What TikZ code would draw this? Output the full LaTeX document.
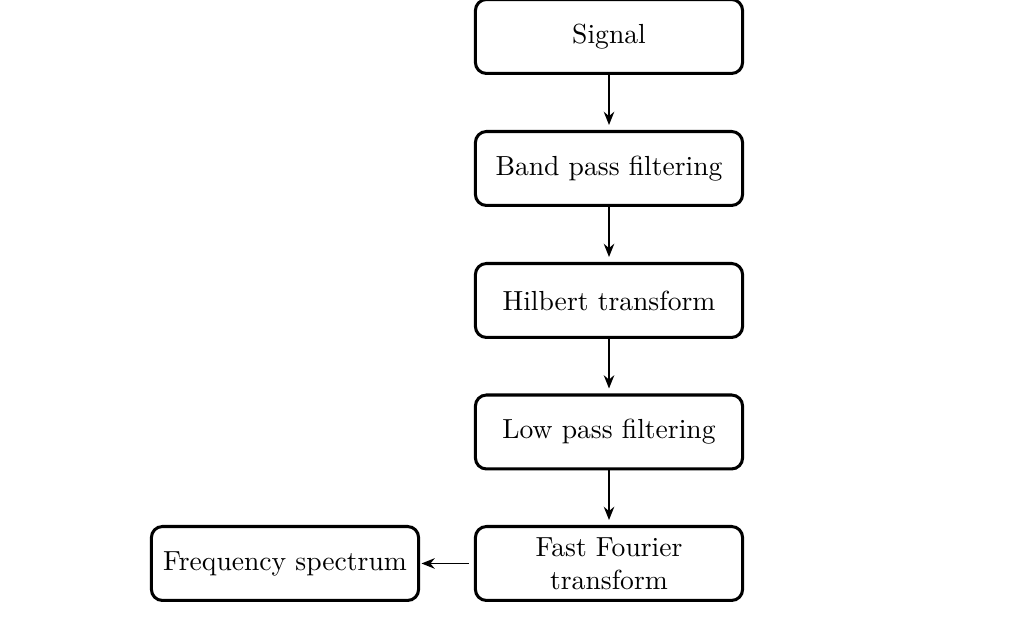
\documentclass[tikz,border=0pt]{standalone}
\usetikzlibrary{arrows.meta}
\begin{document}
\begin{tikzpicture}[x=0.3623pt,y=-0.3623pt,
  procbox/.style={draw, line width=1.1pt, rounded corners=4pt, minimum width=96.8pt, minimum height=26.8pt, align=center, inner sep=2pt},
  flow/.style={line width=0.7pt, -{Stealth[length=4.8pt,width=3.8pt]}}]
\useasboundingbox (0,0) rectangle (1018,624);
\node[procbox] (sig) at (609,36.5) {Signal};
\node[procbox] (bp) at (609,168.5) {Band pass filtering};
\node[procbox] (hil) at (609,300.5) {Hilbert transform};
\node[procbox] (lp) at (609,432) {Low pass filtering};
\node[procbox] (fft) at (609,563.5) {Fast Fourier\\transform};
\node[procbox] (fs) at (285,563.5) {Frequency spectrum};
\draw[flow, shorten >=1.8pt] (sig) -- (bp);
\draw[flow, shorten >=1.8pt] (bp) -- (hil);
\draw[flow, shorten >=1.8pt] (hil) -- (lp);
\draw[flow, shorten >=1.8pt] (lp) -- (fft);
\draw[flow, shorten <=1.8pt, shorten >=0.5pt] (fft) -- (fs);
\end{tikzpicture}
\end{document}
